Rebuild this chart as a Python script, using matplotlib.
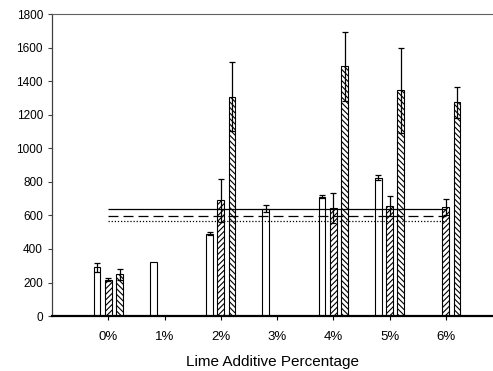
import numpy as np
import matplotlib
matplotlib.use("Agg")
import matplotlib.pyplot as plt

plt.rcParams['font.family'] = ['Liberation Sans', 'DejaVu Sans']
plt.rcParams['hatch.linewidth'] = 0.8

# categorias y datos
etiquetas = ["0%", "1%", "2%", "3%", "4%", "5%", "6%"]
serie_a = [290, 320, 492, 640, 712, 825, np.nan]
err_a = [27, np.nan, 10, 22, 10, 14, np.nan]
serie_b = [218, np.nan, 690, np.nan, 645, 655, 650]
err_b = [8, np.nan, 130, np.nan, 90, 60, 45]
serie_c = [248, np.nan, 1307, np.nan, 1490, 1345, 1275]
err_c = [30, np.nan, 205, np.nan, 205, 255, 93]

# lineas horizontales de referencia
linea_solida = 636
linea_guiones = 596
linea_puntos = 564

fig = plt.figure(figsize=(4.93, 3.71), dpi=100)
ax = fig.add_axes([0.1055, 0.148, 0.913, 0.814])

x = np.arange(len(etiquetas))
ancho = 0.12
sep = 0.2

ax.bar(x - sep, serie_a, ancho, color='white', edgecolor='black', linewidth=0.8, zorder=2)
ax.bar(x, serie_b, ancho, color='white', edgecolor='black', linewidth=0.8, hatch='//////', zorder=2)
ax.bar(x + sep, serie_c, ancho, color='white', edgecolor='black', linewidth=0.8, hatch='\\\\\\\\\\\\', zorder=2)

for desp, vals, errs in [(-sep, serie_a, err_a), (0, serie_b, err_b), (sep, serie_c, err_c)]:
    ax.errorbar(x + desp, vals, yerr=errs, fmt='none', ecolor='black', elinewidth=0.9,
                capsize=2.5, capthick=0.9, zorder=3)

ax.hlines(linea_solida, 0, 6, colors='black', linewidth=0.9, zorder=4)
ax.hlines(linea_guiones, 0, 6, colors='black', linewidth=0.9, linestyles=(0, (8, 4)), zorder=4)
ax.hlines(linea_puntos, 0, 6, colors='black', linewidth=0.9, linestyles=(0, (1, 1.5)), zorder=4)

ax.set_xlim(-1, 7)
ax.set_ylim(0, 1800)
ax.set_yticks(np.arange(0, 1801, 200))
ax.set_xticks(x)
ax.set_xticklabels(etiquetas, fontsize=9.5)
ax.tick_params(axis='y', labelsize=8.5, direction='out', length=3, width=0.8, colors='#404040', labelcolor='black')
ax.tick_params(axis='x', direction='out', length=3, width=0.8, pad=8)

ax.spines['right'].set_visible(False)
ax.spines['top'].set_color('#606060')
ax.spines['left'].set_color('#404040')
ax.spines['left'].set_linewidth(0.9)
ax.spines['bottom'].set_linewidth(1.6)

ax.set_xlabel("Lime Additive Percentage", fontsize=11)
ax.xaxis.set_label_coords(0.49, -0.13)

fig.savefig("out.png", dpi=100)
